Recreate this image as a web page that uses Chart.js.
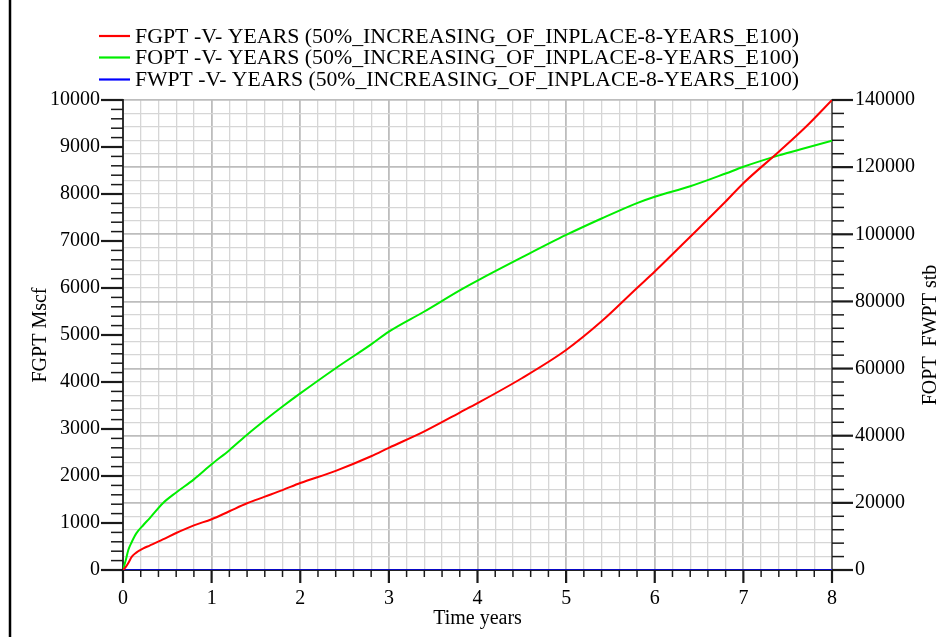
<!DOCTYPE html>
<html>
<head>
<meta charset="utf-8">
<script src="https://cdn.jsdelivr.net/npm/chart.js@4.4.1/dist/chart.umd.min.js"></script>
<style>
  html, body { margin: 0; padding: 0; background: #ffffff; }
  #wrap { width: 944px; height: 637px; position: relative; }
</style>
</head>
<body>
<div id="wrap"><canvas id="c" width="944" height="637"></canvas></div>
<script>
// ---- data ----
const timeYears = [0, 0.03, 0.06, 0.1, 0.15, 0.23, 0.3, 0.45, 0.6, 0.8, 1.0, 1.2, 1.4, 1.6, 1.8, 2.0, 2.4, 2.8, 3.0, 3.4, 3.8, 4.0, 4.5, 5.0, 5.4, 5.8, 6.0, 6.4, 6.8, 7.0, 7.4, 7.7, 8.0];
const fgptMscf = [0, 60, 150, 283, 370, 460, 520, 650, 787, 950, 1080, 1250, 1420, 1560, 1700, 1850, 2110, 2420, 2600, 2950, 3350, 3550, 4080, 4680, 5290, 6000, 6350, 7090, 7840, 8230, 8900, 9420, 10000];
const foptStb = [0, 2800, 5950, 8400, 10900, 13400, 15400, 19900, 23100, 27000, 31500, 35700, 40300, 44600, 48700, 52600, 60100, 67200, 71000, 77000, 83300, 86200, 93100, 99800, 104700, 109300, 111200, 114300, 118100, 120100, 123500, 125700, 127900];
const fwptStb = [0, 0, 0, 0, 0, 0, 0, 0, 0, 0, 0, 0, 0, 0, 0, 0, 0, 0, 0, 0, 0, 0, 0, 0, 0, 0, 0, 0, 0, 0, 0, 0, 0];
const seriesLabels = [
  "FGPT -V- YEARS (50%_INCREASING_OF_INPLACE-8-YEARS_E100)",
  "FOPT -V- YEARS (50%_INCREASING_OF_INPLACE-8-YEARS_E100)",
  "FWPT -V- YEARS (50%_INCREASING_OF_INPLACE-8-YEARS_E100)"
];
const seriesColors = ["#ff0000", "#00ee00", "#0000ff"];
const rightAxisTitle = "FOPT  FWPT stb";
const xTickStep = 0.2;
const leftTickStep = 200;
const rightTickStep = 4000;

const toPts = (vals) => timeYears.map((t, i) => ({ x: t, y: vals[i] }));
const FONT = "'Liberation Serif', 'Times New Roman', serif";
const isMult = (v, m) => Math.abs(v / m - Math.round(v / m)) < 1e-6;

const legendPlugin = {
  id: 'customLegend',
  afterDraw(chart) {
    const ctx = chart.ctx;
    const ca = chart.chartArea;
    ctx.save();
    // figure border on left
    ctx.strokeStyle = '#000';
    ctx.lineWidth = 2.5;
    ctx.beginPath(); ctx.moveTo(10, 0); ctx.lineTo(10, 637); ctx.stroke();
    const rows = [36, 57.5, 79.5];
    chart.data.datasets.forEach((ds, i) => {
      const y = rows[i];
      ctx.strokeStyle = ds.borderColor;
      ctx.lineWidth = 2.2;
      ctx.beginPath(); ctx.moveTo(99, y); ctx.lineTo(130, y); ctx.stroke();
      ctx.fillStyle = '#000';
      ctx.font = '22px ' + FONT;
      ctx.textBaseline = 'middle';
      ctx.textAlign = 'left';
      ctx.fillText(ds.label, 135, y + 1, 664);
    });
    // right axis title, reading bottom-to-top
    ctx.translate(931, (ca.top + ca.bottom) / 2);
    ctx.rotate(-Math.PI / 2);
    ctx.fillStyle = '#000';
    ctx.font = '20px ' + FONT;
    ctx.textAlign = 'center';
    ctx.textBaseline = 'middle';
    ctx.fillText(rightAxisTitle, 0, 0);
    ctx.restore();
  }
};

const tickPlugin = {
  id: 'tickMarks',
  afterDatasetsDraw(chart) {
    const ctx = chart.ctx;
    const ca = chart.chartArea;
    ctx.save();
    ctx.strokeStyle = '#1a1a1a';
    const sx = chart.scales.x;
    sx.ticks.forEach(t => {
      const p = sx.getPixelForValue(t.value);
      const major = isMult(t.value, 1);
      ctx.lineWidth = major ? 2.2 : 1.5;
      ctx.beginPath(); ctx.moveTo(p, ca.bottom); ctx.lineTo(p, ca.bottom + (major ? 13 : 7)); ctx.stroke();
    });
    const sl = chart.scales.y;
    sl.ticks.forEach(t => {
      const p = sl.getPixelForValue(t.value);
      const major = isMult(t.value, 1000);
      ctx.lineWidth = major ? 2.2 : 1.5;
      ctx.beginPath(); ctx.moveTo(ca.left, p); ctx.lineTo(ca.left - (major ? 22 : 12), p); ctx.stroke();
    });
    const sr = chart.scales.y2;
    sr.ticks.forEach(t => {
      const p = sr.getPixelForValue(t.value);
      const major = isMult(t.value, 20000);
      ctx.lineWidth = major ? 2.2 : 1.5;
      ctx.beginPath(); ctx.moveTo(ca.right, p); ctx.lineTo(ca.right + (major ? 21 : 12), p); ctx.stroke();
    });
    ctx.restore();
  }
};

new Chart(document.getElementById('c'), {
  type: 'line',
  data: {
    datasets: [
      { label: seriesLabels[0], data: toPts(fgptMscf), borderColor: seriesColors[0], backgroundColor: seriesColors[0], borderWidth: 2, pointRadius: 0, yAxisID: 'y', cubicInterpolationMode: 'monotone' },
      { label: seriesLabels[1], data: toPts(foptStb), borderColor: seriesColors[1], backgroundColor: seriesColors[1], borderWidth: 2, pointRadius: 0, yAxisID: 'y2', cubicInterpolationMode: 'monotone' },
      { label: seriesLabels[2], data: toPts(fwptStb), borderColor: seriesColors[2], backgroundColor: seriesColors[2], borderWidth: 1.5, pointRadius: 0, yAxisID: 'y2', tension: 0 }
    ]
  },
  options: {
    responsive: false,
    animation: false,
    layout: { padding: { top: 100, left: 0, right: 0, bottom: 0 } },
    plugins: { legend: { display: false }, tooltip: { enabled: false } },
    scales: {
      x: {
        type: 'linear', min: 0, max: 8,
        afterBuildTicks: (s) => { const a = []; for (let i = 0; i <= 40; i++) a.push({ value: +(i * xTickStep).toFixed(4) }); s.ticks = a; },
        ticks: { autoSkip: false, maxRotation: 0, padding: 17, color: '#000', font: { family: FONT, size: 20 },
          callback: (v) => isMult(v, 1) ? String(Math.round(v)) : '' },
        grid: { drawTicks: false, color: (c) => isMult(c.tick.value, 1) ? '#bdbdbd' : '#d6d6d6', lineWidth: (c) => isMult(c.tick.value, 1) ? 1.8 : 1.3 },
        border: { display: true, color: '#222', width: 2 },
        title: { display: true, text: 'Time years', color: '#000', font: { family: FONT, size: 20 }, padding: { top: 0, bottom: 6 } },
        afterFit: (s) => { s.height = 67; }
      },
      y: {
        type: 'linear', position: 'left', min: 0, max: 10000,
        afterBuildTicks: (s) => { const a = []; for (let v = 0; v <= 10000; v += leftTickStep) a.push({ value: v }); s.ticks = a; },
        ticks: { autoSkip: false, padding: 23, color: '#000', font: { family: FONT, size: 20 },
          callback: (v) => isMult(v, 1000) ? String(v) : '' },
        grid: { drawTicks: false, drawOnChartArea: false },
        border: { display: true, color: '#333', width: 2 },
        title: { display: true, text: 'FGPT Mscf', color: '#000', font: { family: FONT, size: 20 }, padding: { top: 29, bottom: 0 } },
        afterFit: (s) => { s.width = 123; }
      },
      y2: {
        type: 'linear', position: 'right', min: 0, max: 140000,
        afterBuildTicks: (s) => { const a = []; for (let v = 0; v <= 140000; v += rightTickStep) a.push({ value: v }); s.ticks = a; },
        ticks: { autoSkip: false, padding: 23, color: '#000', font: { family: FONT, size: 20 },
          callback: (v) => isMult(v, 20000) ? String(v) : '' },
        grid: { drawTicks: false, drawOnChartArea: true, color: (c) => isMult(c.tick.value, 20000) ? '#bdbdbd' : '#d6d6d6', lineWidth: (c) => isMult(c.tick.value, 20000) ? 1.8 : 1.3 },
        border: { display: true, color: '#666', width: 2 },
        title: { display: false },
        afterFit: (s) => { s.width = 112; }
      }
    }
  },
  plugins: [legendPlugin, tickPlugin]
});
</script>
</body>
</html>
